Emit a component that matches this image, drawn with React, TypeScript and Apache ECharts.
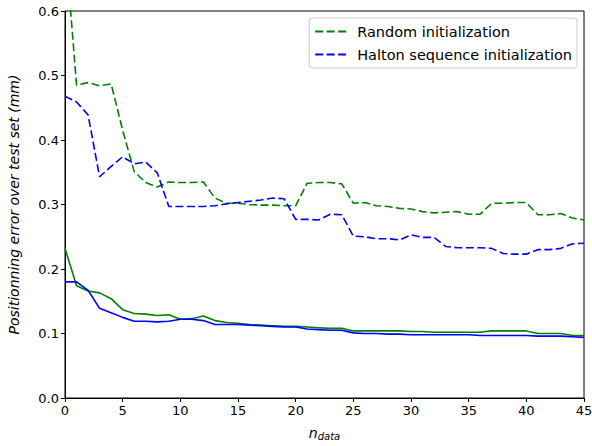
import React, { useEffect, useRef } from "react";
import * as echarts from "echarts";

const nData: number[] = Array.from({ length: 46 }, (_, i) => i);

const randomDashed: number[] = [
  0.71, 0.485, 0.489, 0.484, 0.487, 0.415, 0.351, 0.334, 0.327, 0.335,
  0.334, 0.334, 0.335, 0.31, 0.302, 0.302, 0.3, 0.299, 0.299, 0.298,
  0.298, 0.333, 0.334, 0.334, 0.332, 0.302, 0.303, 0.298, 0.297, 0.294,
  0.293, 0.289, 0.287, 0.288, 0.289, 0.285, 0.285, 0.302, 0.302, 0.303,
  0.303, 0.284, 0.284, 0.286, 0.279, 0.276,
];

const haltonDashed: number[] = [
  0.468, 0.459, 0.439, 0.343, 0.359, 0.374, 0.363, 0.366, 0.349, 0.297,
  0.297, 0.297, 0.297, 0.298, 0.301, 0.303, 0.305, 0.307, 0.31, 0.309,
  0.277, 0.277, 0.276, 0.285, 0.284, 0.251, 0.25, 0.247, 0.247, 0.245,
  0.253, 0.249, 0.249, 0.235, 0.233, 0.233, 0.233, 0.232, 0.224, 0.223,
  0.223, 0.23, 0.23, 0.232, 0.239, 0.24,
];

const randomSolid: number[] = [
  0.232, 0.174, 0.166, 0.163, 0.154, 0.137, 0.131, 0.13, 0.128, 0.129,
  0.122, 0.123, 0.127, 0.12, 0.117, 0.116, 0.114, 0.113, 0.112, 0.111,
  0.111, 0.11, 0.109, 0.108, 0.108, 0.104, 0.104, 0.104, 0.104, 0.104,
  0.103, 0.103, 0.102, 0.102, 0.102, 0.102, 0.102, 0.104, 0.104, 0.104,
  0.104, 0.1, 0.1, 0.1, 0.097, 0.097,
];

const haltonSolid: number[] = [
  0.18, 0.18, 0.167, 0.139, 0.132, 0.125, 0.119, 0.119, 0.118, 0.119,
  0.122, 0.122, 0.12, 0.114, 0.114, 0.114, 0.113, 0.112, 0.111, 0.11,
  0.11, 0.107, 0.106, 0.105, 0.105, 0.101, 0.1, 0.1, 0.099, 0.099,
  0.098, 0.098, 0.098, 0.098, 0.098, 0.098, 0.097, 0.097, 0.097, 0.097,
  0.097, 0.096, 0.096, 0.096, 0.095, 0.094,
];

const legendNames: string[] = ["Random initialization", "Halton sequence initialization"];

const FONT = "DejaVu Sans";
const GREEN = "#008000";
const BLUE = "#0000ff";

function pairs(ys: number[]): number[][] {
  return nData.map((x, i) => [x, ys[i]]);
}

export default function App() {
  const ref = useRef<HTMLDivElement>(null);

  useEffect(() => {
    if (!ref.current) return;
    const chart = echarts.init(ref.current, null, { renderer: "svg" });
    const dash = [8, 3.5];
    chart.setOption({
      animation: false,
      backgroundColor: "#ffffff",
      grid: {
        left: 65,
        right: 8,
        top: 11,
        bottom: 48,
        show: true,
        borderColor: "#000",
        borderWidth: 1,
        backgroundColor: "transparent",
        containLabel: false,
        outerBoundsMode: "none",
      },
      legend: {
        data: legendNames,
        orient: "vertical",
        right: 15,
        top: 18,
        padding: [5, 5, 5, 5],
        itemGap: 6,
        itemWidth: 31,
        itemHeight: 14,
        itemStyle: { opacity: 0 },
        borderColor: "#cccccc",
        borderWidth: 1,
        borderRadius: 3,
        backgroundColor: "rgba(255,255,255,0.8)",
        textStyle: {
          fontFamily: FONT,
          fontSize: 14.5,
          color: "#000",
          padding: [0, 0, 0, 6],
          lineHeight: 17,
        },
      },
      xAxis: {
        type: "value",
        min: 0,
        max: 45,
        interval: 5,
        name: "{n|n}{sub|data}",
        nameLocation: "middle",
        nameGap: 26,
        nameTextStyle: {
          rich: {
            n: { fontFamily: FONT, fontStyle: "italic", fontSize: 14, color: "#000" },
            sub: {
              fontFamily: FONT,
              fontStyle: "italic",
              fontSize: 10,
              color: "#000",
              padding: [7, 0, 0, 0],
            },
          },
        },
        axisLine: { show: true, lineStyle: { color: "#000", width: 1 } },
        axisTick: { show: true, inside: false, length: 4, lineStyle: { color: "#000" } },
        axisLabel: { fontFamily: FONT, fontSize: 13, color: "#000", margin: 6 },
        splitLine: { show: false },
      },
      yAxis: {
        type: "value",
        min: 0,
        max: 0.6,
        interval: 0.1,
        name: "Positionning error over test set (mm)",
        nameLocation: "middle",
        nameGap: 44,
        nameTextStyle: { fontFamily: FONT, fontStyle: "italic", fontSize: 14, color: "#000" },
        axisLine: { show: true, lineStyle: { color: "#000", width: 1 } },
        axisTick: { show: true, inside: false, length: 4, lineStyle: { color: "#000" } },
        axisLabel: {
          fontFamily: FONT,
          fontSize: 13,
          color: "#000",
          margin: 6,
          formatter: (v: number) => v.toFixed(1),
        },
        splitLine: { show: false },
      },
      series: [
        {
          name: legendNames[0],
          type: "line",
          data: pairs(randomDashed),
          showSymbol: false,
          symbol: "none",
          clip: true,
          color: GREEN,
          lineStyle: { color: GREEN, width: 1.6, type: dash },
        },
        {
          name: legendNames[1],
          type: "line",
          data: pairs(haltonDashed),
          showSymbol: false,
          symbol: "none",
          clip: true,
          color: BLUE,
          lineStyle: { color: BLUE, width: 1.6, type: dash },
        },
        {
          name: "Random best",
          type: "line",
          data: pairs(randomSolid),
          showSymbol: false,
          symbol: "none",
          clip: true,
          color: GREEN,
          lineStyle: { color: GREEN, width: 1.6 },
        },
        {
          name: "Halton best",
          type: "line",
          data: pairs(haltonSolid),
          showSymbol: false,
          symbol: "none",
          clip: true,
          color: BLUE,
          lineStyle: { color: BLUE, width: 1.6 },
        },
      ],
    });
    return () => chart.dispose();
  }, []);

  return (
    <div
      ref={ref}
      style={{ position: "fixed", left: 0, top: 0, width: 592, height: 446, background: "#fff" }}
    />
  );
}
